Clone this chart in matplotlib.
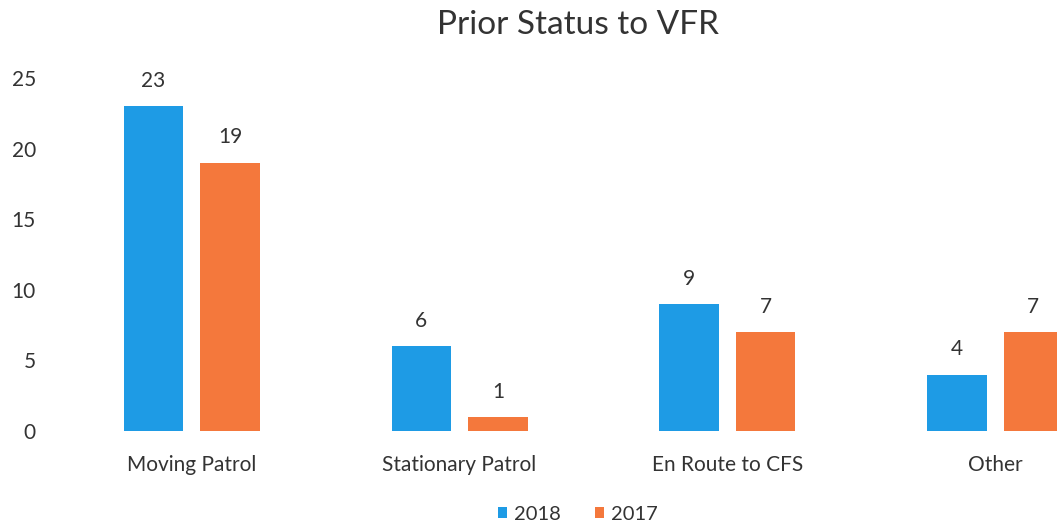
import matplotlib
matplotlib.use("Agg")
import matplotlib.pyplot as plt
import numpy as np

categories = ["Moving Patrol", "Stationary Patrol", "En Route to CFS", "Other"]
series_names = ["2018", "2017"]
values_2018 = [23, 6, 9, 4]
values_2017 = [19, 1, 7, 7]
yticks = [0, 5, 10, 15, 20, 25]

colors = ["#1E9BE5", "#F4783C"]
plt.rcParams['font.family'] = ['Lato', 'DejaVu Sans']

W, H = 1057, 527
fig = plt.figure(figsize=(W / 100, H / 100), dpi=100)
left, right = 58, 1129
bottom, top = 96, 449
ax = fig.add_axes([left / W, bottom / H, (right - left) / W, (top - bottom) / H])

x = np.arange(len(categories))
bw = 0.222
off = 0.143
b1 = ax.bar(x - off, values_2018, bw, color=colors[0], label=series_names[0])
b2 = ax.bar(x + off, values_2017, bw, color=colors[1], label=series_names[1])

for bars in (b1, b2):
    for r in bars:
        ax.annotate(f"{int(r.get_height())}", (r.get_x() + r.get_width() / 2, r.get_height()),
                    xytext=(0, 11), textcoords="offset points", ha="center", va="bottom",
                    fontsize=15, color="#333333")

ax.set_xlim(-0.5, 3.5)
ax.set_ylim(0, 25)
ax.set_yticks(yticks)
ax.set_yticklabels([str(t) for t in yticks])
ax.set_xticks(x)
ax.set_xticklabels(categories)
ax.tick_params(axis='both', length=0, labelsize=15, colors="#333333")
ax.tick_params(axis='y', pad=16)
ax.tick_params(axis='x', pad=17)
for s in ax.spines.values():
    s.set_visible(False)

fig.text(578 / W, 1 - 25 / H, "Prior Status to VFR", ha="center", va="center",
         fontsize=24, color="#333333")

handles = [b1, b2]
leg = fig.legend(handles, series_names, loc="center", bbox_to_anchor=(578 / W, 1 - 514 / H),
                 ncol=2, frameon=False, fontsize=14.5, handlelength=0.45, handleheight=0.45,
                 handletextpad=0.35, columnspacing=1.7)
for t in leg.get_texts():
    t.set_color("#333333")

fig.savefig("out.png", dpi=100)
